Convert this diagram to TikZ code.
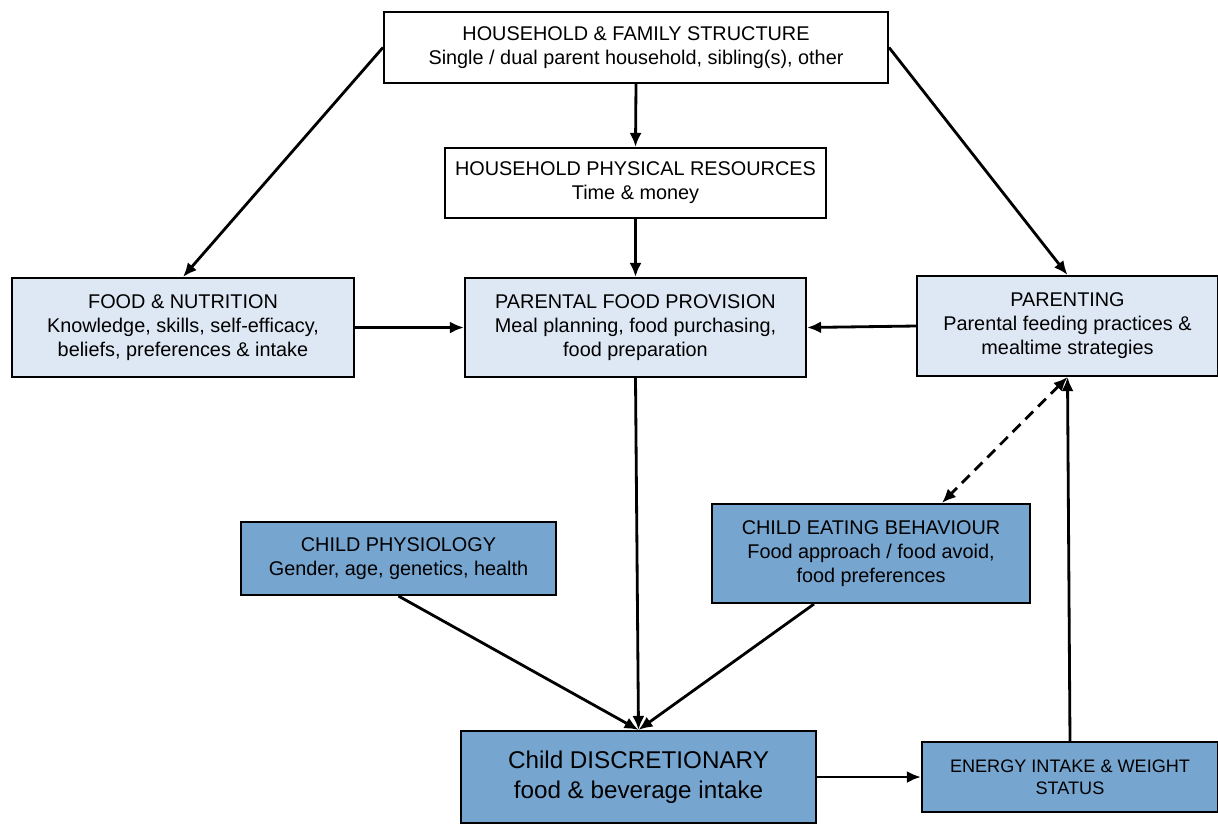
\documentclass[tikz,border=0pt]{standalone}
\usepackage{fontspec}
\setmainfont{Liberation Sans}
\usetikzlibrary{arrows.meta,calc}
\definecolor{lightbox}{HTML}{DEE8F4}
\definecolor{midbox}{HTML}{76A5D0}
\tikzset{
  box/.style={draw=black, line width=1.2pt, rectangle, align=center, inner sep=2pt,
    font=\fontsize{11.3pt}{13.6pt}\selectfont},
  whitebox/.style={box, fill=white},
  lightboxs/.style={box, fill=lightbox},
  midboxs/.style={box, fill=midbox},
  conn/.style={line width=1.6pt, -{Latex[length=0.28cm,width=0.24cm]}},
  dconn/.style={conn, {Latex[length=0.28cm,width=0.24cm]}-{Latex[length=0.28cm,width=0.24cm]}, dash pattern=on 0.22cm off 0.14cm}
}
\begin{document}
\begin{tikzpicture}[x=0.02cm,y=-0.02cm]
\useasboundingbox (0,0) rectangle (1218,823);
\node[whitebox, minimum width=504*0.02cm, minimum height=71*0.02cm] (b1) at (636,47.5)
  {HOUSEHOLD \& FAMILY STRUCTURE\\Single / dual parent household, sibling(s), other};
\node[whitebox, minimum width=381*0.02cm, minimum height=70*0.02cm] (b2) at (635.5,183)
  {HOUSEHOLD PHYSICAL RESOURCES\\Time \& money};
\node[lightboxs, minimum width=342*0.02cm, minimum height=99*0.02cm] (b3) at (183,327.5)
  {FOOD \& NUTRITION\\Knowledge, skills, self-efficacy,\\beliefs, preferences \& intake};
\node[lightboxs, minimum width=341*0.02cm, minimum height=99*0.02cm] (b4) at (635.5,327.5)
  {PARENTAL FOOD PROVISION\\Meal planning, food purchasing,\\food preparation};
\node[lightboxs, minimum width=301*0.02cm, minimum height=100*0.02cm] (b5) at (1067.5,326)
  {PARENTING\\Parental feeding practices \&\\mealtime strategies};
\node[midboxs, minimum width=315*0.02cm, minimum height=73*0.02cm] (b6) at (398.5,558.5)
  {CHILD PHYSIOLOGY\\Gender, age, genetics, health};
\node[midboxs, minimum width=318*0.02cm, minimum height=99*0.02cm] (b7) at (871,553.5)
  {CHILD EATING BEHAVIOUR\\Food approach / food avoid,\\food preferences};
\node[midboxs, minimum width=355*0.02cm, minimum height=92*0.02cm,
  font=\fontsize{13.8pt}{17pt}\selectfont] (b8) at (638.5,777)
  {Child DISCRETIONARY\\food \& beverage intake};
\node[midboxs, minimum width=296*0.02cm, minimum height=70*0.02cm,
  font=\fontsize{10.3pt}{12.4pt}\selectfont] (b9) at (1070,777)
  {ENERGY INTAKE \& WEIGHT\\STATUS};
\draw[conn] (b1.west) -- (b3.north);
\draw[conn] (b1.east) -- (b5.north);
\draw[conn] (b1.south) -- (b2.north);
\draw[conn] (b2.south) -- (b4.north);
\draw[conn] (b3.east) -- (b4.west);
\draw[conn] (b5.west) -- (b4.east);
\draw[conn] (b4.south) -- (b8.north);
\draw[conn] (b6.south) -- (b8.north);
\draw[conn] ($(b7.south west)+(103,0)$) -- (b8.north);
\draw[dconn] (b5.south) -- ($(b7.north west)+(231,0)$);
\draw[conn] (b9.north) -- (b5.south);
\draw[conn] (b8.east) -- (b8.east -| b9.west);
\end{tikzpicture}
\end{document}
